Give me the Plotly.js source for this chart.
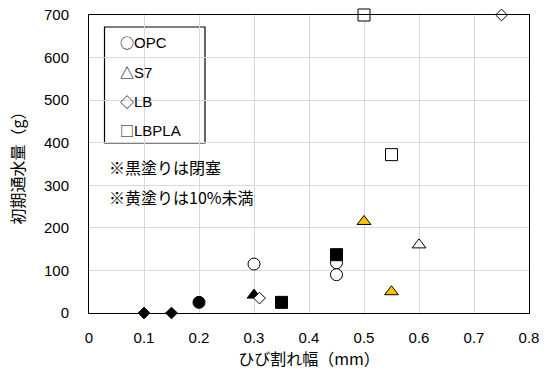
<!DOCTYPE html>
<html>
<head>
<meta charset="utf-8">
<script src="https://cdn.plot.ly/plotly-3.0.1.min.js"></script>
<style>html,body{margin:0;padding:0;background:#fff;}#chart{width:549px;height:374px;}</style>
</head>
<body>
<div id="chart"></div>
<script>
// Data (crack width mm, initial water flow g, fill type)
const opcX = [0.3, 0.45, 0.45, 0.2];
const opcY = [115, 118, 90, 25];
const opcFill = ['open', 'open', 'open', 'black'];

const s7X = [0.3, 0.5, 0.55, 0.6];
const s7Y = [42, 215, 50, 160];
const s7Fill = ['black', 'yellow', 'yellow', 'open'];

const lbX = [0.1, 0.15, 0.31, 0.75];
const lbY = [0, 0, 35, 700];
const lbFill = ['black', 'black', 'open', 'open'];

const lbplaX = [0.35, 0.45, 0.5, 0.55];
const lbplaY = [25, 137, 700, 372];
const lbplaFill = ['black', 'black', 'open', 'open'];

const seriesNames = ['OPC', 'S7', 'LB', 'LBPLA'];
const legendSymbols = ['○', '△', '◇', '□'];
const notes = ['※黒塗りは閉塞', '※黄塗りは10%未満'];
const xTicks = [0, 0.1, 0.2, 0.3, 0.4, 0.5, 0.6, 0.7, 0.8];
const yTicks = [0, 100, 200, 300, 400, 500, 600, 700];

const fillColor = {black: '#000000', yellow: '#FFC000', open: '#FFFFFF'};

function mk(name, x, y, fill, symbol, size) {
  return {
    type: 'scatter', mode: 'markers', name: name, x: x, y: y,
    cliponaxis: false, showlegend: false, hoverinfo: 'skip',
    marker: {symbol: symbol, size: size,
      color: fill.map(f => fillColor[f]),
      line: {color: '#000000', width: 1}}
  };
}

const traces = [
  mk(seriesNames[0], opcX, opcY, opcFill, 'circle', 12),
  mk(seriesNames[1], s7X, s7Y, s7Fill, 'triangle-up', 12),
  mk(seriesNames[2], lbX, lbY, lbFill, 'diamond', 9),
  mk(seriesNames[3], lbplaX, lbplaY, lbplaFill, 'square', 12)
];

const W = 549, H = 374, L = 89, R = 20, T = 15, B = 61;
const pw = W - L - R, ph = H - T - B;
const px = v => (v - L) / pw;
const py = v => (H - B - v) / ph;

const jp = '"Noto Sans CJK JP", "Noto Sans", sans-serif';
const lat = '"Liberation Sans", Arial, sans-serif';

const shapes = [
  {type: 'rect', xref: 'paper', yref: 'paper', layer: 'between',
   x0: px(98), x1: px(267), y0: py(213), y1: py(151),
   fillcolor: '#ffffff', line: {width: 0}},
  {type: 'rect', xref: 'paper', yref: 'paper', layer: 'between',
   x0: px(104.5), x1: px(205), y0: py(143), y1: py(27),
   fillcolor: '#ffffff', line: {color: '#000000', width: 1.2}}
];

const legendY = [42.5, 72, 101, 129.5];
const annotations = seriesNames.map((t, i) => ({
  xref: 'paper', yref: 'paper', x: px(118), y: py(legendY[i]),
  xanchor: 'left', yanchor: 'middle', showarrow: false,
  text: '<span style="font-family:' + "'Noto Sans CJK JP'" + ';font-size:14px">' + legendSymbols[i] + '</span>' + t,
  font: {family: lat, size: 15, color: '#000'}
}));
const noteY = [167, 197];
notes.forEach((t, i) => annotations.push({
  xref: 'paper', yref: 'paper', x: px(107), y: py(noteY[i]),
  xanchor: 'left', yanchor: 'middle', showarrow: false, text: t,
  font: {family: jp, size: 16, color: '#000'}
}));

const layout = {
  width: W, height: H,
  margin: {l: L, r: R, t: T, b: B, pad: 0},
  paper_bgcolor: '#ffffff', plot_bgcolor: '#ffffff',
  showlegend: false,
  xaxis: {
    range: [0, 0.8], tickvals: xTicks, ticktext: xTicks.map(String),
    showgrid: true, gridcolor: '#d9d9d9', gridwidth: 1,
    zeroline: false, showline: true, linecolor: '#000', linewidth: 1, mirror: true,
    ticks: '', ticklabelstandoff: 11, tickfont: {family: lat, size: 15, color: '#000'},
    title: {text: 'ひび割れ幅（mm）', font: {family: jp, size: 16, color: '#000'}, standoff: 6}
  },
  yaxis: {
    range: [0, 700], tickvals: yTicks, ticktext: yTicks.map(String),
    showgrid: true, gridcolor: '#d9d9d9', gridwidth: 1,
    zeroline: false, showline: true, linecolor: '#000', linewidth: 1, mirror: true,
    ticks: '', ticklabelstandoff: 16, tickfont: {family: lat, size: 15, color: '#000'},
    title: {text: '初期通水量（g）', font: {family: jp, size: 16, color: '#000'}, standoff: 15}
  },
  shapes: shapes,
  annotations: annotations
};

Plotly.newPlot('chart', traces, layout, {displayModeBar: false, staticPlot: true});
</script>
</body>
</html>
